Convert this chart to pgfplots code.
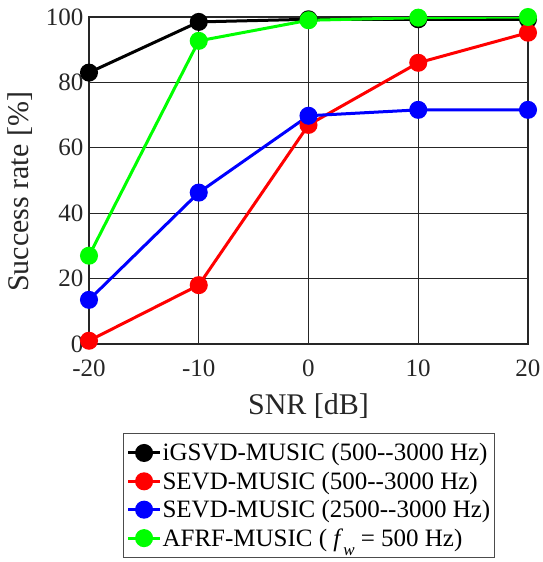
\documentclass[border=0pt]{standalone}
\usepackage{pgfplots}
\pgfplotsset{compat=1.18}
\usepackage{fontspec}
\setmainfont{Liberation Serif}
\begin{document}
\begin{tikzpicture}[x=1pt,y=1pt]
\useasboundingbox (-89,-218) rectangle (454,344);
\clip (-89,-218) rectangle (454,344);
\begin{axis}[
  at={(0,0)}, anchor=south west,
  scale only axis, width=439pt, height=327pt,
  xmin=-20, xmax=20, ymin=0, ymax=100,
  xtick={-20,-10,0,10,20}, ytick={0,20,40,60,80,100},
  xticklabels={-20,-10,0,10,20},
  yticklabels={0,20,40,60,80,100},
  ticklabel style={font=\rmfamily\fontsize{25}{30}\selectfont, text=black!85},
  xticklabel style={yshift=-12pt},
  yticklabel style={xshift=-2pt},
  major tick length=0pt,
  grid=major,
  major grid style={black!85, line width=1.2pt},
  axis line style={black!85, line width=1.5pt},
  xlabel={SNR [dB]}, ylabel={Success rate [\%]},
  label style={font=\rmfamily\fontsize{30}{34}\selectfont, text=black!85},
  xlabel style={at={(axis description cs:0.5,-0.19)}, anchor=center},
  ylabel style={at={(axis description cs:-0.158,0.465)}, anchor=center},
  every axis plot/.append style={line width=3pt, mark=*, mark size=7.5pt},
  legend style={at={(axis description cs:0.0774,-0.272)}, anchor=north west,
    draw=black!70, line width=1.2pt, font=\rmfamily\fontsize{25}{28}\selectfont,
    inner xsep=3pt, inner ysep=8pt, row sep=5.5pt,
    nodes={inner xsep=1pt}},
  legend cell align=left,
  legend image code/.code={\draw[mark repeat=2,mark phase=2,#1]
    plot coordinates {(0pt,0pt) (16pt,0pt) (32pt,0pt)};},
]
\addplot[black, mark options={fill=black}] coordinates {(-20,83) (-10,98.5) (0,99.3) (10,99.3) (20,99.3)};
\addlegendentry{iGSVD-MUSIC (500-{}-3000 Hz)}
\addplot[red, mark options={fill=red}] coordinates {(-20,1) (-10,18) (0,67) (10,86) (20,95.2)};
\addlegendentry{SEVD-MUSIC (500-{}-3000 Hz)}
\addplot[blue, mark options={fill=blue}] coordinates {(-20,13.5) (-10,46.3) (0,69.8) (10,71.6) (20,71.6)};
\addlegendentry{SEVD-MUSIC (2500-{}-3000 Hz)}
\addplot[green, mark options={fill=green}] coordinates {(-20,27) (-10,92.7) (0,99) (10,99.8) (20,100)};
\addlegendentry{AFRF-MUSIC (\ \textit{f}\raisebox{-0.38em}{\fontsize{17}{17}\selectfont\textit{w}} = 500 Hz)}
\end{axis}
\end{tikzpicture}
\end{document}
